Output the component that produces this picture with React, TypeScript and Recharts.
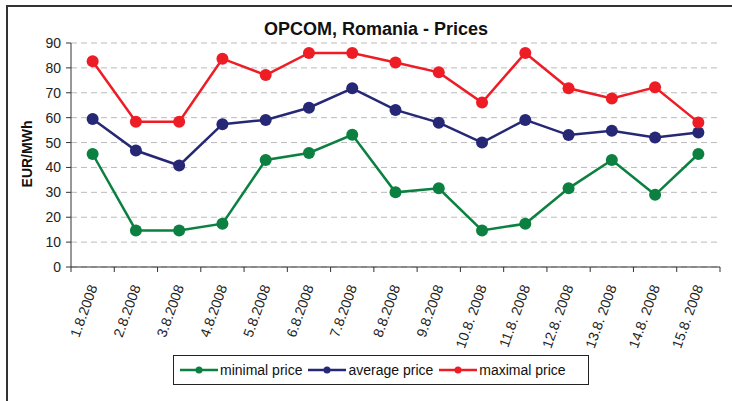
import { LineChart, Line, XAxis, YAxis, CartesianGrid } from 'recharts';

const dates = [
  '1.8.2008', '2.8.2008', '3.8.2008', '4.8.2008', '5.8.2008',
  '6.8.2008', '7.8.2008', '8.8.2008', '9.8.2008', '10.8. 2008',
  '11.8. 2008', '12.8. 2008', '13.8. 2008', '14.8. 2008', '15.8. 2008',
];
const minimalPrice = [45.4, 14.7, 14.7, 17.4, 43, 45.8, 53.1, 30, 31.6, 14.7, 17.4, 31.6, 43, 29, 45.4];
const averagePrice = [59.5, 46.8, 40.8, 57.4, 59.1, 64, 71.8, 63.1, 58, 50, 59.1, 53, 54.7, 52, 54];
const maximalPrice = [82.7, 58.4, 58.4, 83.7, 77.1, 86, 86, 82.2, 78.2, 66.1, 86, 71.8, 67.7, 72.2, 58.1];
const yTicks = [0, 10, 20, 30, 40, 50, 60, 70, 80, 90];

const SERIES = [
  { key: 'min', name: 'minimal price', color: '#0b8040' },
  { key: 'avg', name: 'average price', color: '#262876' },
  { key: 'max', name: 'maximal price', color: '#ee1c25' },
];

const data = dates.map((d, i) => ({
  date: d,
  min: minimalPrice[i],
  avg: averagePrice[i],
  max: maximalPrice[i],
}));

const FONT = 'Liberation Sans, Arial, sans-serif';
const PLOT_LEFT = 71;
const PLOT_WIDTH = 649;
const HALF_CAT = PLOT_WIDTH / dates.length / 2;

function DateTick({ x, y, payload }: any) {
  return (
    <text
      x={x + 5}
      y={y + 12}
      transform={`rotate(-70, ${x + 5}, ${y + 12})`}
      textAnchor="end"
      fontFamily={FONT}
      fontSize={14}
      fill="#222"
    >
      {payload.value}
    </text>
  );
}

export default function App() {
  return (
    <div style={{ position: 'absolute', left: 0, top: 0, width: 732, height: 401, background: '#fff', fontFamily: FONT }}>
      {/* frame */}
      <div style={{ position: 'absolute', left: 6, top: 5, width: 726, height: 396, borderTop: '2px solid #333', borderLeft: '2px solid #333' }} />
      <div style={{ position: 'absolute', left: 176, top: 19, width: 400, textAlign: 'center', fontWeight: 'bold', fontSize: 18, color: '#111' }}>
        OPCOM, Romania - Prices
      </div>
      <div style={{
        position: 'absolute', left: 27, top: 154, transform: 'translate(-50%, -50%) rotate(-90deg)',
        fontWeight: 'bold', fontSize: 14, color: '#111', whiteSpace: 'nowrap',
      }}>
        EUR/MWh
      </div>
      <div style={{ position: 'absolute', left: 0, top: 0 }}>
        <LineChart width={732} height={401} data={data} margin={{ top: 43, right: 12, left: 31, bottom: 54 }}>
          <CartesianGrid vertical={false} stroke="#bbb" strokeDasharray="6 4" />
          <XAxis
            dataKey="date"
            interval={0}
            height={80}
            padding={{ left: HALF_CAT, right: HALF_CAT }}
            tick={<DateTick />}
            axisLine={{ stroke: '#333' }}
            tickLine={false}
          />
          <YAxis
            width={40}
            domain={[0, 90]}
            ticks={yTicks}
            interval={0}
            tick={{ fontSize: 14, fill: '#222', fontFamily: FONT }}
            tickSize={5}
            tickMargin={5}
            axisLine={{ stroke: '#333' }}
            tickLine={{ stroke: '#333' }}
          />
          {SERIES.map((s) => (
            <Line
              key={s.key}
              dataKey={s.key}
              name={s.name}
              stroke={s.color}
              strokeWidth={2.5}
              dot={{ r: 6, fill: s.color, stroke: s.color, strokeWidth: 0 }}
              isAnimationActive={false}
            />
          ))}
        </LineChart>
      </div>
      {/* category boundary ticks */}
      <svg style={{ position: 'absolute', left: 0, top: 0 }} width={732} height={401}>
        {dates.concat(['']).map((_, i) => (
          <line key={i} x1={PLOT_LEFT + i * 2 * HALF_CAT} x2={PLOT_LEFT + i * 2 * HALF_CAT} y1={267} y2={272} stroke="#333" />
        ))}
      </svg>
      <div style={{
        position: 'absolute', left: 173, top: 355, width: 416, height: 30, border: '1px solid #222',
        display: 'flex', alignItems: 'center', paddingLeft: 6, gap: 6,
        fontSize: 14, color: '#111', boxSizing: 'border-box',
      }}>
        {SERIES.map((s) => (
          <div key={s.key} style={{ display: 'flex', alignItems: 'center', gap: 2 }}>
            <svg width={38} height={10}>
              <line x1={0} x2={38} y1={5} y2={5} stroke={s.color} strokeWidth={2.5} />
              <circle cx={19} cy={5} r={3.5} fill={s.color} />
            </svg>
            <span>{s.name}</span>
          </div>
        ))}
      </div>
    </div>
  );
}
